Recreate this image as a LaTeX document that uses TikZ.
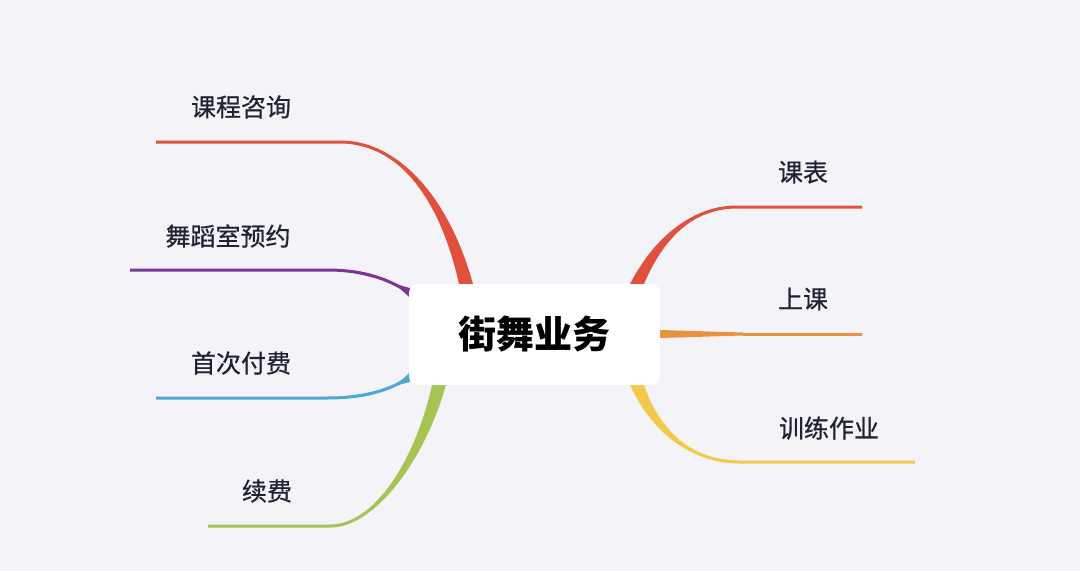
\documentclass[tikz,border=0pt]{standalone}
\usepackage{fontspec}
\setmainfont{Noto Sans CJK SC}
\newfontfamily\lblfont{Noto Sans CJK SC}[FakeBold=0.6]
\pgfdeclarelayer{background}
\pgfsetlayers{background,main}
\definecolor{bgc}{HTML}{F4F4F8}
\definecolor{txt}{HTML}{1E2232}
\definecolor{cred}{HTML}{E0503C}
\definecolor{cpur}{HTML}{7B3596}
\definecolor{cblu}{HTML}{4BA9D2}
\definecolor{cgrn}{HTML}{A6C453}
\definecolor{cora}{HTML}{E8923E}
\definecolor{cyel}{HTML}{F2C94C}
\tikzset{
  lbl/.style={inner sep=0pt, text=txt, font=\lblfont\fontsize{25}{28}\selectfont},
  hub/.style={fill=white, rounded corners=9pt, minimum width=251pt, minimum height=101pt, inner sep=0pt,
              font=\fontsize{38}{42}\selectfont\bfseries, text=black},
  twig/.style={line width=3pt},
}
\begin{document}
\begin{tikzpicture}[x=1pt,y=-1pt]
\useasboundingbox (0,0) rectangle (1080,571);
\node[hub] (c) at (534.5,334.5) {街舞业务};
\node[lbl] (l1) at (241,107) {课程咨询};
\node[lbl] (l2) at (228,236) {舞蹈室预约};
\node[lbl] (l3) at (241,363) {首次付费};
\node[lbl] (l4) at (267,491) {续费};
\node[lbl] (r1) at (803,172) {课表};
\node[lbl] (r2) at (803,299) {上课};
\node[lbl] (r3) at (829,428) {训练作业};
% junctions and line ends
\coordinate (j1) at (340,142); \coordinate (e1) at (156,142); \coordinate (b1) at (466,284);
\coordinate (j2) at (327,270); \coordinate (e2) at (130,270); \coordinate (b2) at (410,293);
\coordinate (j3) at (327,398); \coordinate (e3) at (156,398); \coordinate (b3) at (410,377);
\coordinate (j4) at (330,526); \coordinate (e4) at (208,526); \coordinate (b4) at (439,385);
\coordinate (j5) at (737,207); \coordinate (e5) at (862,207); \coordinate (b5) at (637,284);
\coordinate (j6) at (743,334); \coordinate (e6) at (862,334); \coordinate (b6) at (660,334);
\coordinate (j7) at (740,462); \coordinate (e7) at (915,462); \coordinate (b7) at (637,385);
\begin{pgfonlayer}{background}
\fill[bgc] (0,0) rectangle (1080,571);
% left: 课程咨询
\draw[twig,cred] (e1) -- (j1) .. controls (400,142) and (445,200) .. (b1);
\fill[cred] (j1) .. controls (400,139.7) and (449.7,200) .. ([xshift=7pt]b1)
  -- ([xshift=-7pt]b1) .. controls (440.3,200) and (400,144.3) .. (j1) -- cycle;
% 舞蹈室预约
\draw[twig,cpur] (e2) -- (j2) .. controls (365,270) and (390,280) .. (b2);
\fill[cpur] (j2) .. controls (365,268.3) and (390,276.7) .. ([yshift=-5pt]b2)
  -- ([yshift=5pt]b2) .. controls (390,283.3) and (365,271.7) .. (j2) -- cycle;
% 首次付费
\draw[twig,cblu] (e3) -- (j3) .. controls (365,398) and (390,390) .. (b3);
\fill[cblu] (j3) .. controls (365,399.7) and (390,393.3) .. ([yshift=5pt]b3)
  -- ([yshift=-5pt]b3) .. controls (390,386.7) and (365,396.3) .. (j3) -- cycle;
% 续费
\draw[twig,cgrn] (e4) -- (j4) .. controls (375,526) and (420,460) .. (b4);
\fill[cgrn] (j4) .. controls (375,528.3) and (424.7,460) .. ([xshift=7pt]b4)
  -- ([xshift=-7pt]b4) .. controls (415.3,460) and (375,523.7) .. (j4) -- cycle;
% 课表
\draw[twig,cred] (e5) -- (j5) .. controls (695,207) and (660,235) .. (b5);
\fill[cred] ([xshift=-7pt]b5) .. controls (655.3,235) and (695,204.7) .. (j5)
  .. controls (695,209.3) and (664.7,235) .. ([xshift=7pt]b5) -- cycle;
% 上课
\draw[twig,cora] (j6) -- (e6);
\fill[cora] ([yshift=-4pt]b6) -- ([yshift=-1.5pt]j6) -- ([yshift=1.5pt]j6) -- ([yshift=4pt]b6) -- cycle;
% 训练作业
\draw[twig,cyel] (e7) -- (j7) .. controls (690,462) and (655,430) .. (b7);
\fill[cyel] ([xshift=-7pt]b7) .. controls (650.3,430) and (690,464.3) .. (j7)
  .. controls (690,459.7) and (659.7,430) .. ([xshift=7pt]b7) -- cycle;
\end{pgfonlayer}
\end{tikzpicture}
\end{document}
